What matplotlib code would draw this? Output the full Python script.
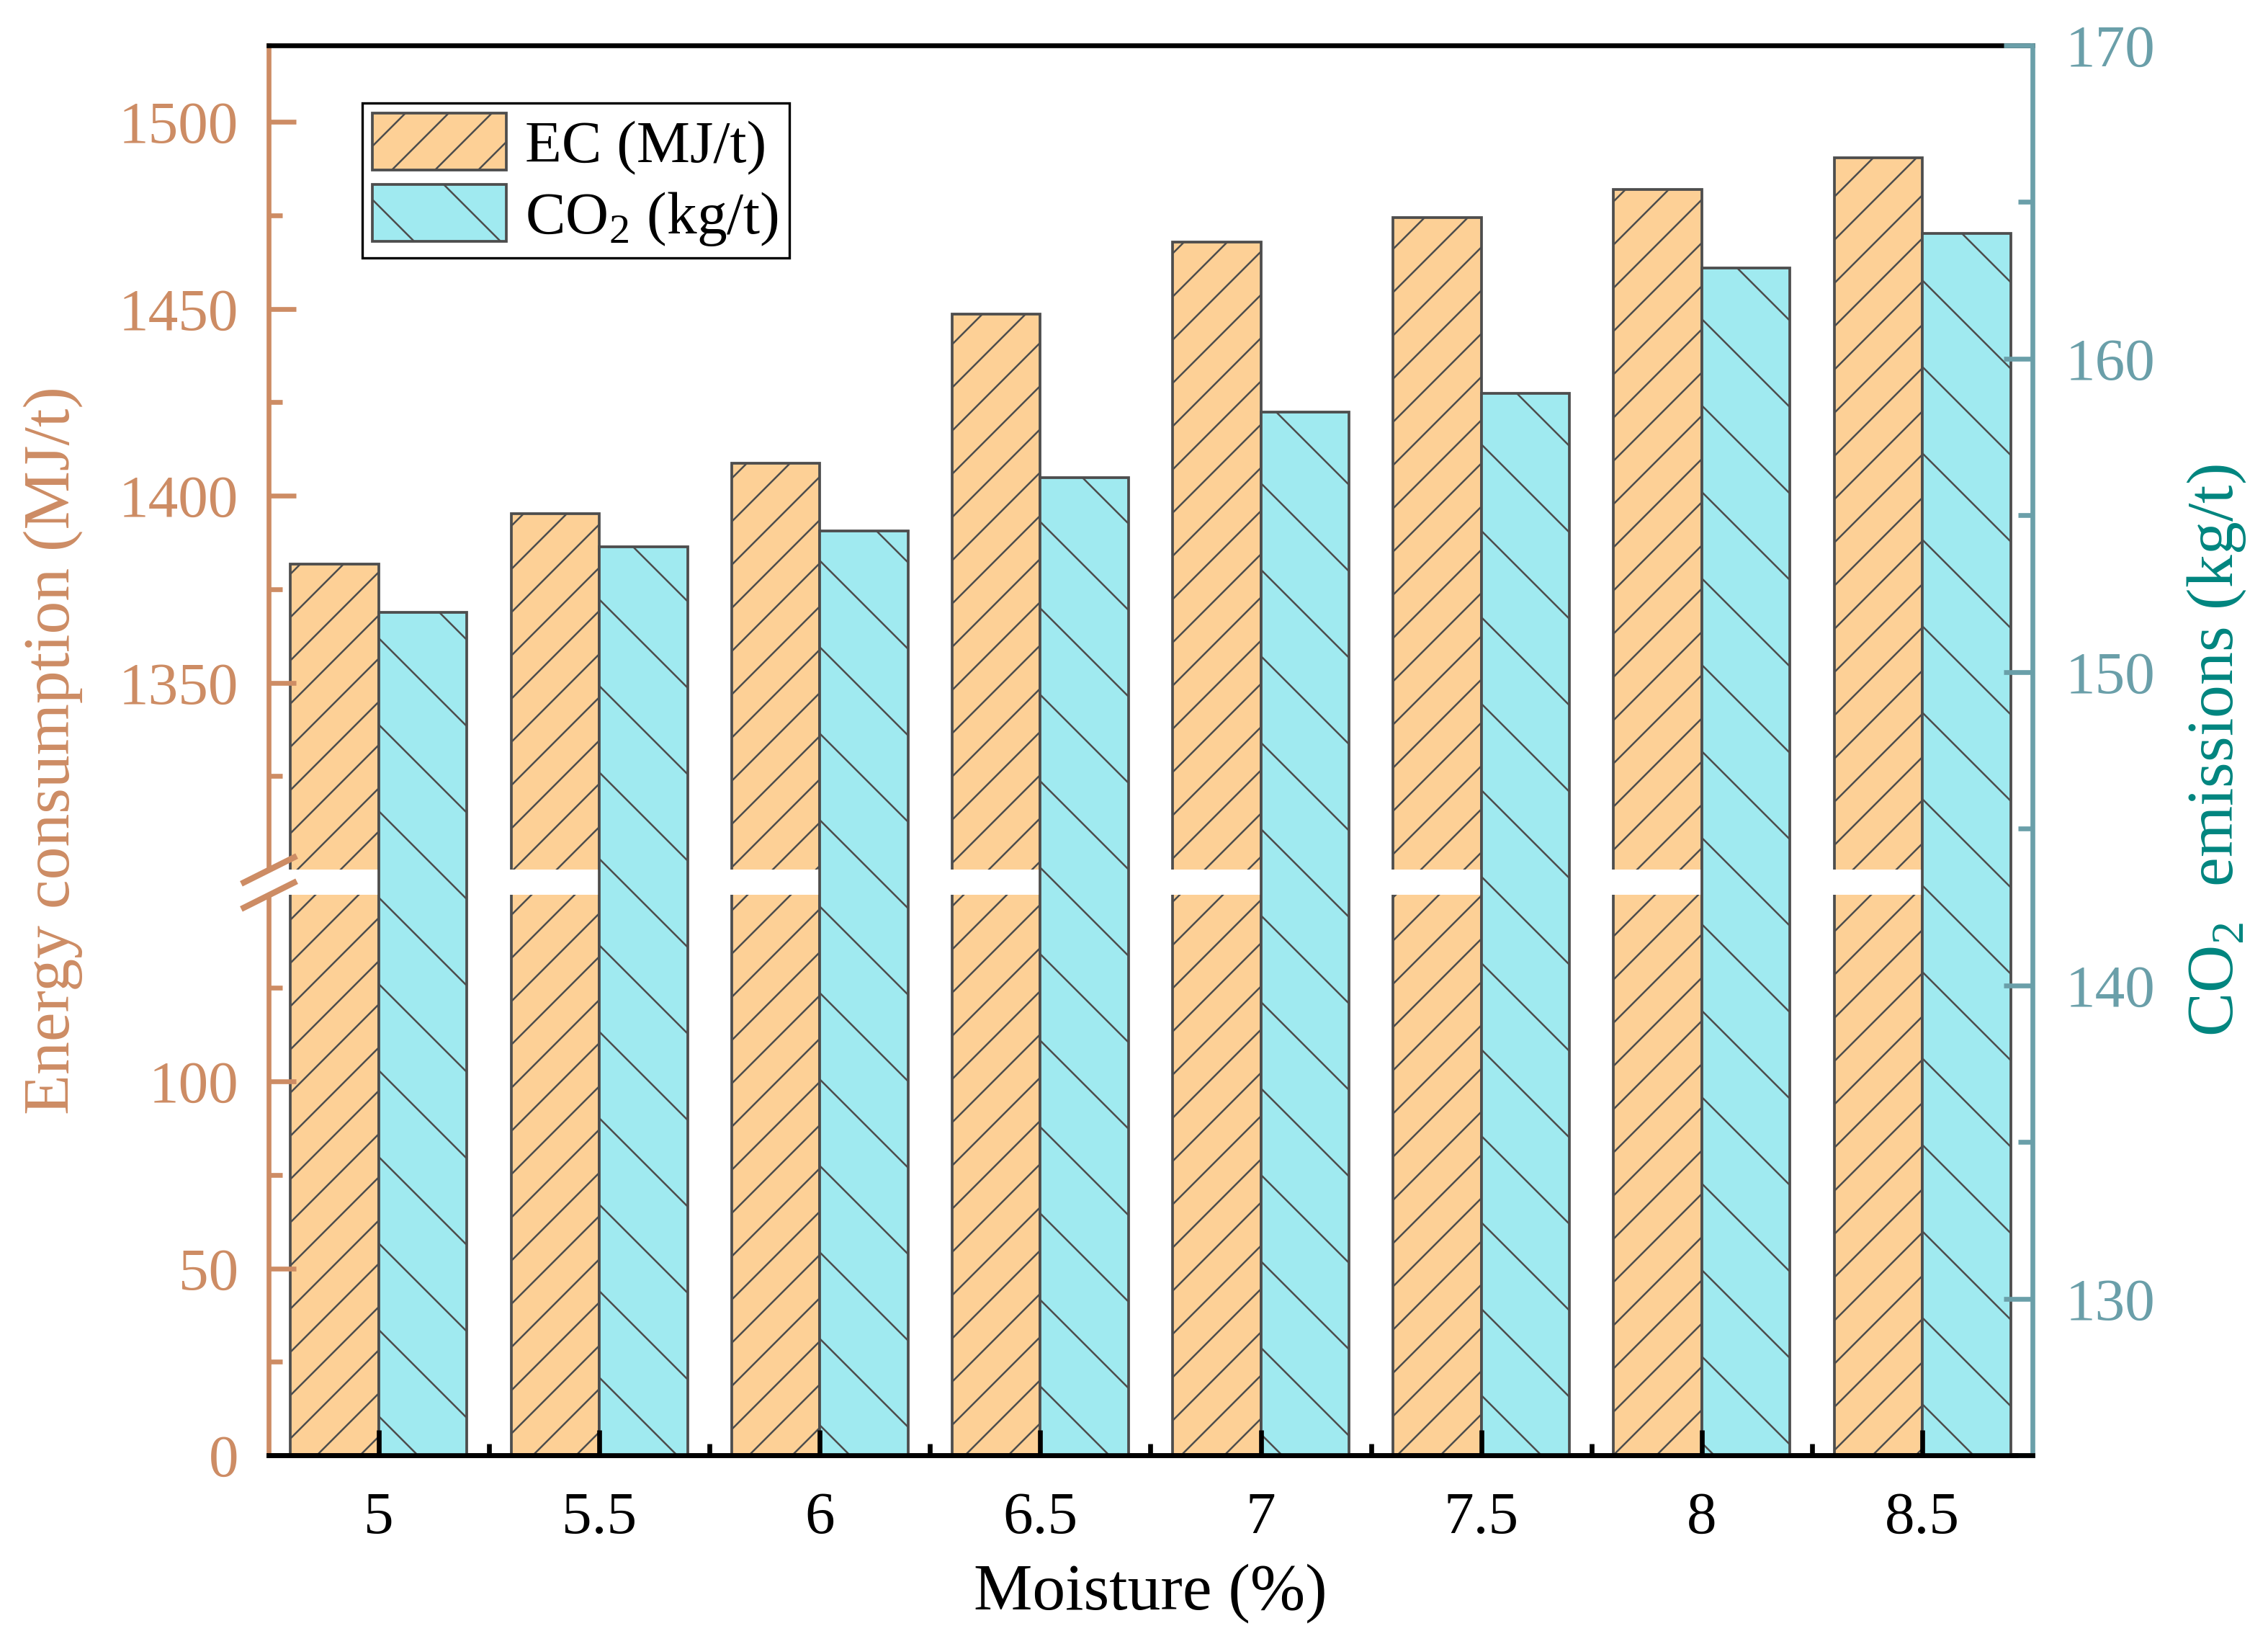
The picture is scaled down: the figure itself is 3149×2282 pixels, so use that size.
import numpy as np
import matplotlib.pyplot as plt
from matplotlib.patches import Rectangle
from matplotlib.ticker import FixedLocator, MultipleLocator

# hatch spacing follows the dpi, so sizes are given at 300 dpi and scaled
DPI = 360
S = 300 / DPI

plt.rcParams['font.family'] = ['Liberation Serif', 'DejaVu Serif']
plt.rcParams['mathtext.fontset'] = 'custom'
plt.rcParams['mathtext.rm'] = 'Liberation Serif'
plt.rcParams['hatch.linewidth'] = 0.6 * S

# --- data ---
moisture = ['5', '5.5', '6', '6.5', '7', '7.5', '8', '8.5']
ec_values = [1381.7, 1395.2, 1408.8, 1448.6, 1467.9, 1474.5, 1481.9, 1490.4]
co2_values = [151.9, 154.0, 154.5, 156.2, 158.3, 158.9, 162.9, 164.0]

# --- colours ---
EC_FILL = '#FDD096'
CO2_FILL = '#A0EAF0'
EDGE = '#4D4D4D'
LEFT_C = '#CD8C64'
RIGHT_C = '#6A9FA9'
RIGHT_LABEL_C = '#00857F'

# broken left axis: 0-150 and 1300-1520
LOW_TOP = 150
HIGH_BOTTOM = 1300
GAP = 6.7


def forward(y):
    y = np.asarray(y, dtype=float)
    mid = LOW_TOP + GAP * (y - LOW_TOP) / (HIGH_BOTTOM - LOW_TOP)
    return np.where(y <= LOW_TOP, y,
                    np.where(y >= HIGH_BOTTOM, y - HIGH_BOTTOM + LOW_TOP + GAP, mid))


def inverse(y):
    y = np.asarray(y, dtype=float)
    mid = LOW_TOP + (y - LOW_TOP) * (HIGH_BOTTOM - LOW_TOP) / GAP
    return np.where(y <= LOW_TOP, y,
                    np.where(y >= LOW_TOP + GAP, y - LOW_TOP - GAP + HIGH_BOTTOM, mid))


fig = plt.figure(figsize=(3149 / DPI, 2282 / DPI), dpi=DPI)
ax = fig.add_axes([0.1184, 0.1148, 0.7778, 0.8576])
ax.set_yscale('function', functions=(forward, inverse))

x = np.arange(len(moisture))
width = 0.4

ec_bars = ax.bar(x - width / 2, ec_values, width, color=EC_FILL, edgecolor=EDGE,
                 linewidth=0.9 * S, hatch='//', label='EC (MJ/t)')

ax.set_xlim(-0.5, len(moisture) - 0.5)
ax.set_ylim(0, 1520.5)
ax.yaxis.set_major_locator(FixedLocator([0, 50, 100, 1350, 1400, 1450, 1500]))
ax.yaxis.set_minor_locator(FixedLocator([25, 75, 125, 1325, 1375, 1425, 1475]))
ax.yaxis.set_major_formatter(plt.FuncFormatter(lambda v, p: f'{v:.0f}'))
ax.tick_params(axis='y', which='both', direction='in', colors=LEFT_C,
               labelsize=20 * S, pad=10 * S, width=1.6 * S)
ax.tick_params(axis='y', which='major', length=9 * S)
ax.tick_params(axis='y', which='minor', length=4.5 * S)
ax.tick_params(axis='x', which='both', bottom=False, labelbottom=False)

ax.spines['left'].set_color(LEFT_C)
ax.spines['left'].set_linewidth(1.6 * S)
ax.spines['top'].set_color('black')
ax.spines['top'].set_linewidth(1.6 * S)
ax.spines['bottom'].set_linewidth(1.6 * S)
ax.spines['right'].set_visible(False)
ax.set_ylabel('Energy consumption (MJ/t)', fontsize=22 * S, color=LEFT_C,
              labelpad=12 * S)

# white stripe over the break
ax.add_patch(Rectangle((-0.004, LOW_TOP), 1.004, HIGH_BOTTOM - LOW_TOP,
                       transform=ax.get_yaxis_transform(), facecolor='white',
                       edgecolor='none', zorder=3, clip_on=False))
ax.plot([0, 0], [LOW_TOP, HIGH_BOTTOM], transform=ax.get_yaxis_transform(),
        marker=[(-1, -0.5), (1, 0.5)], markersize=18.5 * S, linestyle='none',
        color=LEFT_C, mec=LEFT_C, mew=2.0 * S, clip_on=False, zorder=4)

# --- right axis ---
ax2 = ax.twinx()
co2_bars = ax2.bar(x + width / 2, co2_values, width, color=CO2_FILL, edgecolor=EDGE,
                   linewidth=0.9 * S, hatch='\\', label=r'CO$_\mathregular{2}$ (kg/t)')
ax2.set_ylim(125, 170)
ax2.yaxis.set_major_locator(MultipleLocator(10))
ax2.yaxis.set_minor_locator(MultipleLocator(5))
ax2.tick_params(axis='y', which='both', direction='in', colors=RIGHT_C,
                labelsize=20 * S, pad=11 * S, width=1.6 * S)
ax2.tick_params(axis='y', which='major', length=9.6 * S)
ax2.tick_params(axis='y', which='minor', length=4.8 * S)
ax2.spines['right'].set_color(RIGHT_C)
ax2.spines['right'].set_linewidth(1.6 * S)
ax2.spines['top'].set_visible(False)
ax2.spines['left'].set_visible(False)
ax2.spines['bottom'].set_color('black')
ax2.spines['bottom'].set_linewidth(1.6 * S)
ax2.set_ylabel(r'CO$_\mathregular{2}$  emissions (kg/t)', fontsize=22 * S,
               color=RIGHT_LABEL_C, labelpad=10 * S)

# x axis drawn on the top layer
ax2.xaxis.set_visible(True)
ax2.set_xticks(x)
ax2.set_xticklabels(moisture)
ax2.xaxis.set_minor_locator(FixedLocator(x[:-1] + 0.5))
ax2.tick_params(axis='x', which='both', bottom=True, labelbottom=True, top=False,
                direction='in', color='black', labelsize=20 * S, pad=12 * S,
                width=1.6 * S)
ax2.tick_params(axis='x', which='major', length=8.4 * S)
ax2.tick_params(axis='x', which='minor', length=3.8 * S)
ax2.set_xlabel('Moisture (%)', fontsize=22 * S, labelpad=6 * S)

leg = ax2.legend(handles=[ec_bars, co2_bars], loc='upper left',
                 bbox_to_anchor=(0.053, 0.959), borderaxespad=0, fontsize=20 * S,
                 handlelength=2.24, handleheight=1.08, labelspacing=0.15,
                 borderpad=0.17, handletextpad=0.31, fancybox=False,
                 edgecolor='black', framealpha=1)
leg.get_frame().set_linewidth(0.8 * S)

fig.savefig('out.png', dpi=DPI)
